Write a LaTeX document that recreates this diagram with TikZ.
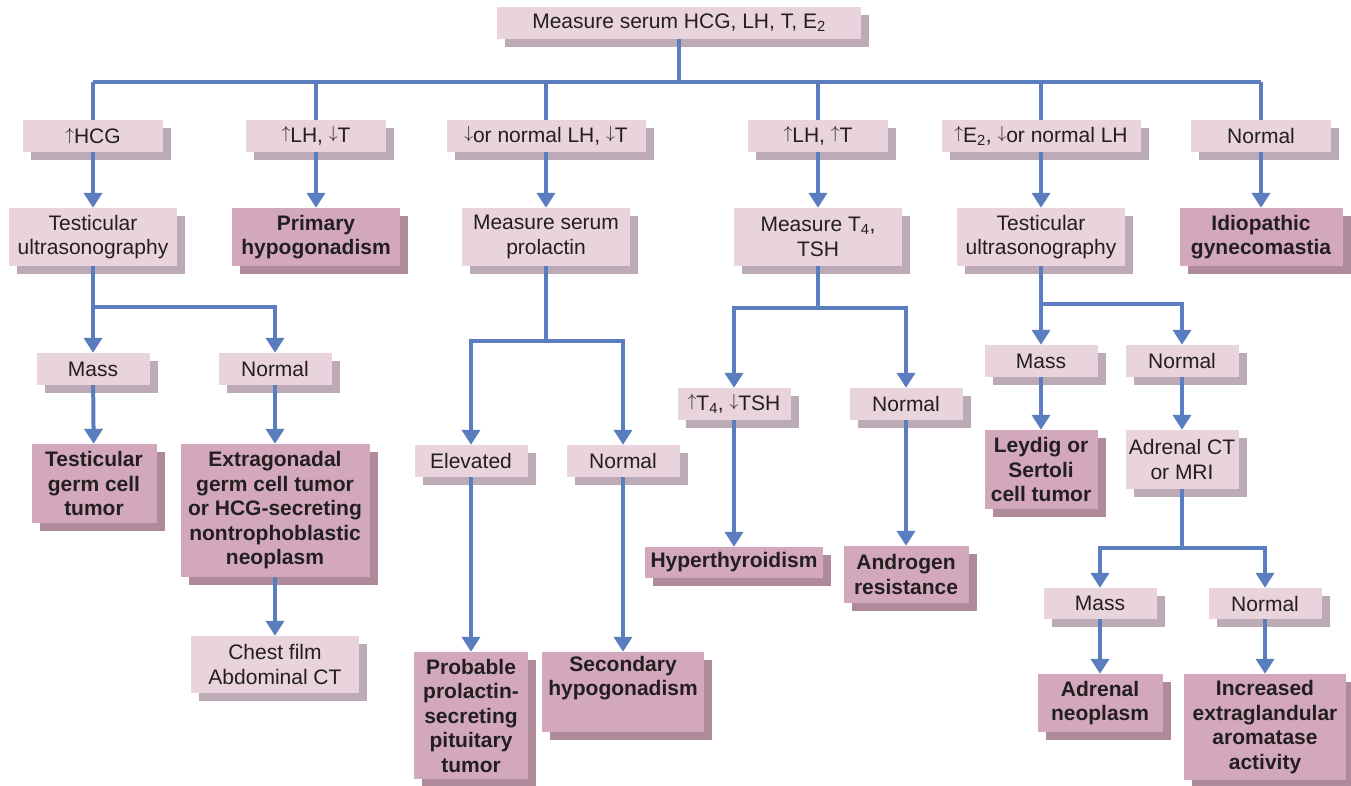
\documentclass[tikz,border=0pt]{standalone}
\usepackage{fontspec}
\setmainfont{Liberation Sans}
\usetikzlibrary{arrows.meta,shadows}

\definecolor{lightfill}{HTML}{E9D3DC}
\definecolor{lightshade}{HTML}{BDAAB7}
\definecolor{darkfill}{HTML}{D3A8BC}
\definecolor{darkshade}{HTML}{AE8A9B}
\definecolor{wireblue}{HTML}{5A7DC0}
\definecolor{ink}{HTML}{231F20}

\begin{document}
\begin{tikzpicture}[x=1pt,y=-1pt,
	box/.style={inner sep=0pt,align=center,text=ink,
		font=\fontsize{21}{24.5}\selectfont},
	lbox/.style={box,fill=lightfill,
		drop shadow={shadow xshift=8pt,shadow yshift=-8pt,fill=lightshade,opacity=1}},
	dbox/.style={box,fill=darkfill,font=\fontsize{21}{24.5}\selectfont\bfseries,
		drop shadow={shadow xshift=8pt,shadow yshift=-8pt,fill=darkshade,opacity=1}},
	wire/.style={draw=wireblue,line width=4pt},
	arr/.style={wire,-{Triangle[width=18pt,length=15pt]}}]
	\useasboundingbox (0,0) rectangle (1351,785);
	\def \up {\raisebox{.17em}{\scalebox{.85}{$\uparrow$}}}%fleche haut
	\def \dn {\raisebox{.17em}{\scalebox{.85}{$\downarrow$}}}%fleche bas
	% niveau 1 et 2
	\node[lbox,minimum width=364pt,minimum height=32pt] (top) at (679,23) {Measure serum HCG, LH, T, E\textsubscript{2}};
	\node[lbox,minimum width=140pt,minimum height=32pt] (hcg) at (93,136) {\up HCG};
	\node[lbox,minimum width=140pt,minimum height=32pt] (lh) at (316,136) {\up LH, \dn T};
	\node[lbox,minimum width=199pt,minimum height=32pt] (lown) at (546,136) {\dn or normal LH, \dn T};
	\node[lbox,minimum width=140pt,minimum height=32pt] (lht) at (818,136) {\up LH, \up T};
	\node[lbox,minimum width=199pt,minimum height=32pt] (etwo) at (1041,136) {\up E\textsubscript{2}, \dn or normal LH};
	\node[lbox,minimum width=140pt,minimum height=32pt] (norm) at (1261,136) {Normal};
	% niveau 3
	\node[lbox,minimum width=168pt,minimum height=58pt] (tusa) at (93,237) {Testicular\\ultrasonography};
	\node[dbox,minimum width=168pt,minimum height=58pt] (prim) at (316,237) {Primary\\hypogonadism};
	\node[lbox,minimum width=168pt,minimum height=58pt] (prl) at (546,237) {Measure serum\\prolactin};
	\node[lbox,minimum width=168pt,minimum height=58pt] (tsh) at (818,237) {Measure T\textsubscript{4},\\TSH};
	\node[lbox,minimum width=168pt,minimum height=58pt] (tusb) at (1041,237) {Testicular\\ultrasonography};
	\node[dbox,minimum width=163pt,minimum height=58pt] (idio) at (1261,237) {Idiopathic\\gynecomastia};
	% branche HCG
	\node[lbox,minimum width=113pt,minimum height=32pt] (massa) at (93,369) {Mass};
	\node[lbox,minimum width=113pt,minimum height=32pt] (norma) at (275,369) {Normal};
	\node[dbox,minimum width=125pt,minimum height=79pt] (germ) at (94,483.5) {Testicular\\germ cell\\tumor};
	\node[dbox,minimum width=189pt,minimum height=133pt] (extra) at (275,510.5) {Extragonadal\\germ cell tumor\\or HCG-secreting\\nontrophoblastic\\neoplasm};
	\node[lbox,minimum width=168pt,minimum height=57pt] (chest) at (275,664.5) {Chest film\\Abdominal CT};
	% branche prolactine
	\node[lbox,minimum width=113pt,minimum height=32pt] (elev) at (471,461) {Elevated};
	\node[lbox,minimum width=113pt,minimum height=32pt] (normb) at (623,461) {Normal};
	\node[dbox,minimum width=114pt,minimum height=127pt] (prob) at (471,715.5) {Probable\\prolactin-\\secreting\\pituitary\\tumor};
	\node[dbox,minimum width=162pt,minimum height=80pt] (sec) at (623,692) {Secondary\\hypogonadism\\\strut};
	% branche thyroide
	\node[lbox,minimum width=113pt,minimum height=32pt] (tfour) at (734,404) {\up T\textsubscript{4}, \dn TSH};
	\node[lbox,minimum width=113pt,minimum height=32pt] (normc) at (906,404) {Normal};
	\node[dbox,minimum width=178pt,minimum height=31pt] (hyper) at (734,562.5) {Hyperthyroidism};
	\node[dbox,minimum width=125pt,minimum height=57pt] (andro) at (906,574.5) {Androgen\\resistance};
	% branche E2
	\node[lbox,minimum width=113pt,minimum height=32pt] (massb) at (1041,361) {Mass};
	\node[lbox,minimum width=113pt,minimum height=32pt] (normd) at (1182,361) {Normal};
	\node[dbox,minimum width=113pt,minimum height=79pt] (leydig) at (1041,469.5) {Leydig or\\Sertoli\\cell tumor};
	\node[lbox,minimum width=113pt,minimum height=59pt] (adct) at (1182,459.5) {Adrenal CT\\or MRI};
	\node[lbox,minimum width=113pt,minimum height=31pt] (massc) at (1100,603.5) {Mass};
	\node[lbox,minimum width=113pt,minimum height=31pt] (norme) at (1265,603.5) {Normal};
	\node[dbox,minimum width=125pt,minimum height=58pt] (adneo) at (1100,703) {Adrenal\\neoplasm};
	\node[dbox,minimum width=162pt,minimum height=106pt] (incr) at (1265,727) {Increased\\extraglandular\\aromatase\\activity};
	% liaisons
	\coordinate (bus) at (679,82);
	\coordinate (ja) at (93,307);
	\coordinate (jb) at (546,341);
	\coordinate (jc) at (818,308);
	\coordinate (jd) at (1041,304);
	\coordinate (je) at (1182,548);
	\draw[wire] (top) -- (bus);
	\draw[wire] (bus -| hcg) -- (bus -| norm);
	\foreach \n in {hcg,lh,lown,lht,etwo,norm}{
		\draw[wire] (bus -| \n) -- (\n.north);
		}
	\foreach \a/\b in {hcg/tusa,lh/prim,lown/prl,lht/tsh,etwo/tusb,norm/idio,massa/germ,norma/extra,extra/chest,elev/prob,normb/sec,tfour/hyper,normc/andro,massb/leydig,normd/adct,massc/adneo,norme/incr}{
		\draw[arr] (\a) -- (\b);
		}
	\draw[wire] (tusa) -- (ja);
	\draw[arr] (ja) -- (massa);
	\draw[arr] (ja) -| (norma);
	\draw[wire] (prl) -- (jb);
	\draw[arr] (jb) -| (elev);
	\draw[arr] (jb) -| (normb);
	\draw[wire] (tsh) -- (jc);
	\draw[arr] (jc) -| (tfour);
	\draw[arr] (jc) -| (normc);
	\draw[wire] (tusb) -- (jd);
	\draw[arr] (jd) -- (massb);
	\draw[arr] (jd) -| (normd);
	\draw[wire] (adct) -- (je);
	\draw[arr] (je) -| (massc);
	\draw[arr] (je) -| (norme);
\end{tikzpicture}
\end{document}
